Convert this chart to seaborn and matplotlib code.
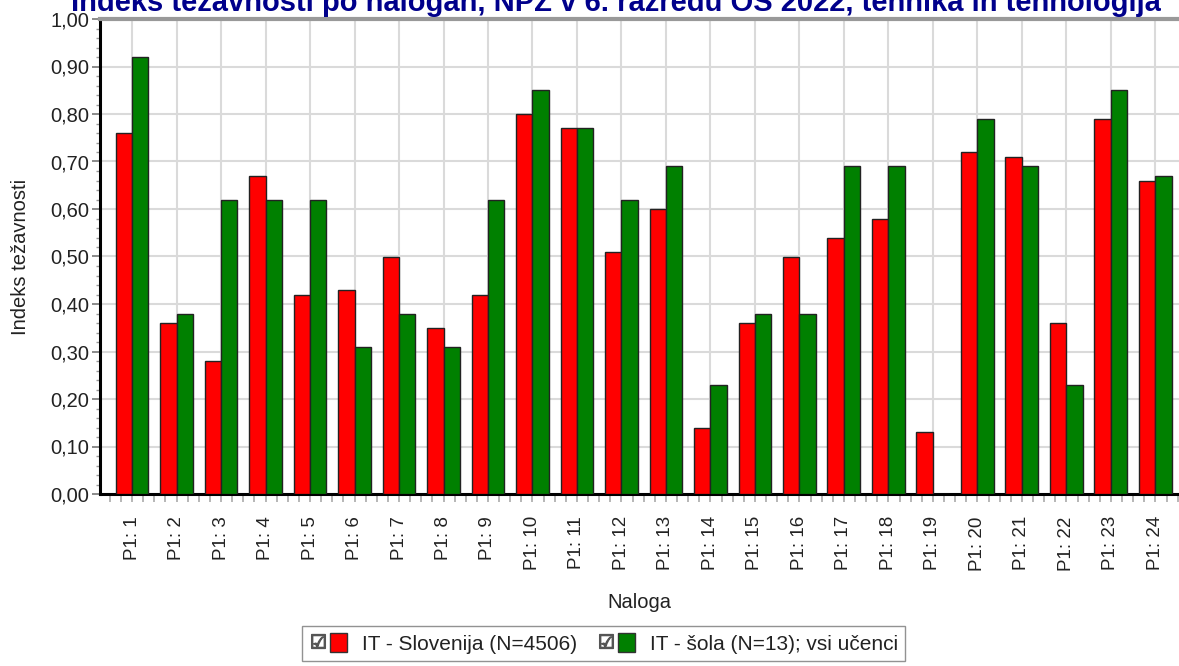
import numpy as np
import pandas as pd
import matplotlib
matplotlib.use("Agg")
import matplotlib.pyplot as plt
import matplotlib.ticker as mtick
from matplotlib.patches import Patch
from matplotlib.lines import Line2D
from matplotlib.legend_handler import HandlerTuple
import seaborn as sns

# ── Data ─────────────────────────────────────────────────────
naloge = [f"P1: {i}" for i in range(1, 25)]
slovenija = [0.76, 0.36, 0.28, 0.67, 0.42, 0.43, 0.50, 0.35, 0.42, 0.80, 0.77, 0.51,
             0.60, 0.14, 0.36, 0.50, 0.54, 0.58, 0.13, 0.72, 0.71, 0.36, 0.79, 0.66]
sola = [0.92, 0.38, 0.62, 0.62, 0.62, 0.31, 0.38, 0.31, 0.62, 0.85, 0.77, 0.62,
        0.69, 0.23, 0.38, 0.38, 0.69, 0.69, 0.00, 0.79, 0.69, 0.23, 0.85, 0.67]
serije = ["IT - Slovenija (N=4506)", "IT - šola (N=13); vsi učenci"]

RED = "#FF0000"
GREEN = "#008000"
TITLE_BLUE = "#00008B"

df = pd.DataFrame({
    "Naloga": naloge * 2,
    "Indeks": slovenija + sola,
    "Serija": [serije[0]] * len(naloge) + [serije[1]] * len(naloge),
})

# ── Style ────────────────────────────────────────────────────
sns.set_style("white")
plt.rcParams["font.family"] = ["Liberation Sans", "DejaVu Sans"]

fig = plt.figure(figsize=(11.79, 6.66), dpi=100)
ax = fig.add_axes([100 / 1179, 1 - 494 / 666, 1 - 100 / 1179, (494 - 19) / 666])

sns.barplot(data=df, x="Naloga", y="Indeks", hue="Serija", order=naloge,
            hue_order=serije, palette=[RED, GREEN], width=0.74,
            edgecolor="#222222", linewidth=1.0, saturation=1, ax=ax, zorder=3)

ax.set_xlim(-0.72, 23.53)
ax.set_ylim(0, 1.0)
ax.yaxis.set_major_locator(mtick.MultipleLocator(0.1))
ax.yaxis.set_minor_locator(mtick.MultipleLocator(0.02))
ax.yaxis.set_major_formatter(mtick.FuncFormatter(lambda v, _: f"{v:.2f}".replace(".", ",")))
ax.xaxis.set_minor_locator(mtick.MultipleLocator(0.25))

ax.grid(True, which="major", color="#DADADA", linewidth=1.5, zorder=0)
ax.set_axisbelow(True)

ax.tick_params(axis="y", which="major", length=6, width=1.2, color="#777777",
               labelsize=14.5, labelcolor="#222222", pad=2, left=True)
ax.tick_params(axis="y", which="minor", length=3, width=1, color="#999999", left=True)
ax.tick_params(axis="x", which="both", length=6, width=1.2, color="#AAAAAA",
               labelsize=13.5, labelcolor="#222222", pad=10, bottom=True)
plt.setp(ax.get_xticklabels(), rotation=90)

for s in ["left", "bottom"]:
    ax.spines[s].set_color("black")
    ax.spines[s].set_linewidth(2.2)
ax.spines["top"].set_color("#999999")
ax.spines["top"].set_linewidth(3)
ax.spines["right"].set_visible(False)

ax.set_xlabel("Naloga", fontsize=14.5, color="#222222", labelpad=16)
ax.set_ylabel("Indeks težavnosti", fontsize=14.5, color="#222222", labelpad=14)

# title sits partly above the picture, as in the reference
fig.text(0.522, 1 - 11 / 666,
         "Indeks težavnosti po nalogah, NPZ v 6. razredu OŠ 2022, tehnika in tehnologija",
         ha="center", va="baseline", fontsize=21, fontweight="bold", color=TITLE_BLUE)

# ── Legend with check boxes ──────────────────────────────────
ax.get_legend().remove()
check = dict(marker="$\u2611$", color="#555555", markersize=10, linestyle="none")
handles = [
    (Line2D([], [], **check), Patch(facecolor=RED, edgecolor="#333333")),
    (Line2D([], [], **check), Patch(facecolor=GREEN, edgecolor="#333333")),
]
fig.legend(handles, serije, loc="lower center", bbox_to_anchor=(0.512, -0.008),
           ncol=2, fontsize=15, frameon=True, fancybox=False, edgecolor="#777777",
           handler_map={tuple: HandlerTuple(ndivide=None, pad=0.2)},
           handlelength=1.8, handleheight=1.0, handletextpad=0.7, columnspacing=1.0,
           borderpad=0.35, labelcolor="#222222")

plt.savefig("out.png", dpi=100)
plt.close()
